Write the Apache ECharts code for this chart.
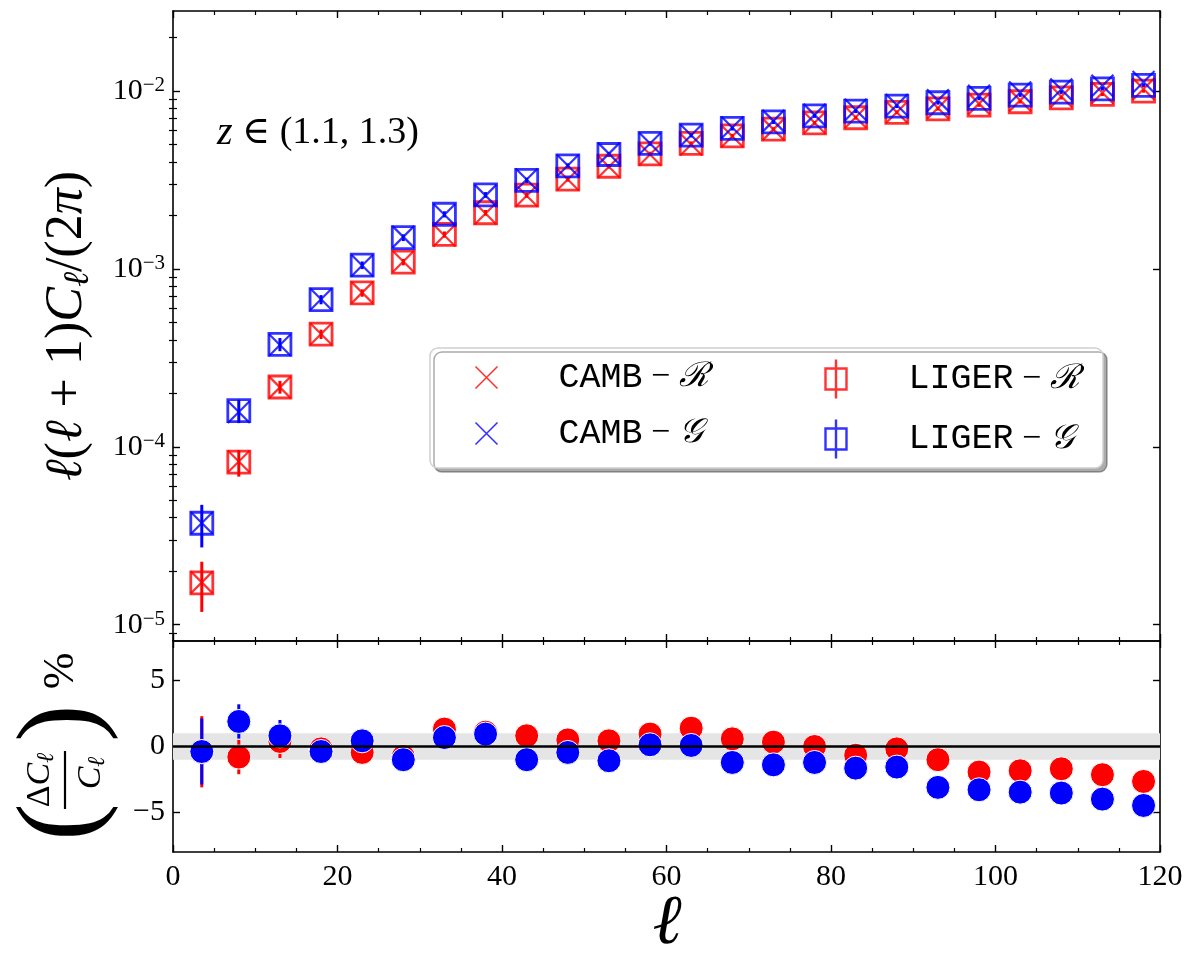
<!DOCTYPE html>
<html>
<head>
<meta charset="utf-8">
<script src="https://cdn.jsdelivr.net/npm/echarts@6/dist/echarts.min.js"></script>
<style>
  html, body { margin: 0; padding: 0; background: #fff; }
  #chart { width: 1200px; height: 965px; }
</style>
</head>
<body>
<div id="chart"></div>
<script>
// multipole bin centres
var ell = [3.5, 8, 13, 18, 23, 28, 33, 38, 43, 48, 53, 58, 63, 68, 73, 78, 83, 88, 93, 98, 103, 108, 113, 118];

// l(l+1)C_l/(2pi), LIGER measurements (squares) and errors
var ligerR = [1.72e-5, 8.2e-5, 2.17e-4, 4.3e-4, 7.33e-4, 1.094e-3, 1.563e-3, 2.07e-3, 2.60e-3, 3.20e-3, 3.78e-3, 4.44e-3,
              5.08e-3, 5.60e-3, 6.11e-3, 6.63e-3, 7.08e-3, 7.59e-3, 7.95e-3, 8.34e-3, 8.71e-3, 9.17e-3, 9.58e-3, 1.0e-2];
var ligerG = [3.72e-5, 1.60e-4, 3.77e-4, 6.73e-4, 1.05e-3, 1.50e-3, 2.03e-3, 2.61e-3, 3.15e-3, 3.80e-3, 4.40e-3, 5.08e-3,
              5.65e-3, 6.17e-3, 6.71e-3, 7.26e-3, 7.72e-3, 8.23e-3, 8.60e-3, 9.10e-3, 9.50e-3, 9.87e-3, 1.03e-2, 1.077e-2];
var ligerRErr = [5.4e-6, 1.4e-5, 1.8e-5, 2.6e-5, 3.5e-5, 4.6e-5, 6.2e-5, 7.5e-5, 8.8e-5, 1.0e-4, 1.1e-4, 1.25e-4,
                 1.35e-4, 1.45e-4, 1.55e-4, 1.6e-4, 1.7e-4, 1.75e-4, 1.8e-4, 1.85e-4, 1.9e-4, 1.95e-4, 2.0e-4, 2.05e-4];
var ligerGErr = [1.0e-5, 2.4e-5, 3.2e-5, 4.0e-5, 5.2e-5, 6.5e-5, 8.0e-5, 9.5e-5, 1.08e-4, 1.22e-4, 1.35e-4, 1.48e-4,
                 1.58e-4, 1.68e-4, 1.78e-4, 1.86e-4, 1.94e-4, 2.02e-4, 2.08e-4, 2.15e-4, 2.2e-4, 2.26e-4, 2.32e-4, 2.38e-4];

// CAMB theory (crosses)
var cambR = [1.73e-5, 8.27e-5, 2.16e-4, 4.31e-4, 7.36e-4, 1.102e-3, 1.543e-3, 2.05e-3, 2.58e-3, 3.18e-3, 3.76e-3, 4.40e-3,
             5.01e-3, 5.57e-3, 6.09e-3, 6.63e-3, 7.13e-3, 7.60e-3, 8.03e-3, 8.50e-3, 8.87e-3, 9.33e-3, 9.79e-3, 1.027e-2];
var cambG = [3.73e-5, 1.57e-4, 3.74e-4, 6.76e-4, 1.045e-3, 1.515e-3, 2.016e-3, 2.585e-3, 3.18e-3, 3.82e-3, 4.45e-3, 5.07e-3,
             5.645e-3, 6.24e-3, 6.80e-3, 7.35e-3, 7.85e-3, 8.36e-3, 8.87e-3, 9.40e-3, 9.83e-3, 1.022e-2, 1.071e-2, 1.125e-2];

// relative difference (percent) and its errors
var diffR = [-0.4, -0.8, 0.38, -0.18, -0.45, -0.76, 1.32, 1.09, 0.81, 0.5, 0.43, 0.94,
             1.39, 0.58, 0.33, 0.0, -0.66, -0.18, -1.0, -1.94, -1.84, -1.69, -2.14, -2.65];
var diffG = [-0.38, 1.9, 0.81, -0.38, 0.43, -1.0, 0.68, 0.94, -1.0, -0.45, -1.08, 0.13,
             0.08, -1.21, -1.39, -1.21, -1.64, -1.56, -3.1, -3.28, -3.46, -3.53, -3.99, -4.47];
var diffRErr = [2.7, 1.3, 1.25, 0.8, 0.7, 0.6, 0.55, 0.5, 0.45, 0.4, 0.4, 0.35,
                0.35, 0.3, 0.3, 0.3, 0.3, 0.3, 0.3, 0.3, 0.3, 0.3, 0.3, 0.3];
var diffGErr = [2.5, 1.3, 1.2, 0.8, 0.7, 0.6, 0.55, 0.5, 0.45, 0.4, 0.4, 0.35,
                0.35, 0.3, 0.3, 0.3, 0.3, 0.3, 0.3, 0.3, 0.3, 0.3, 0.3, 0.3];

// axis ticks
var logMajor = [1e-5, 1e-4, 1e-3, 1e-2];
var logMinor = [9e-6, 2e-5, 3e-5, 4e-5, 5e-5, 6e-5, 7e-5, 8e-5, 9e-5, 2e-4, 3e-4, 4e-4, 5e-4, 6e-4, 7e-4, 8e-4, 9e-4,
                2e-3, 3e-3, 4e-3, 5e-3, 6e-3, 7e-3, 8e-3, 9e-3, 2e-2];
var ratioTicks = [-5, 0, 5];

var RED = '#ff0000', BLUE = '#0000ff';
var SERIF = '"Liberation Serif", "DejaVu Serif", serif';
var MONO = '"Liberation Mono", "DejaVu Sans Mono", monospace';
var crossPath = 'path://M0,0L22,22M22,0L0,22';
var boxPath = 'path://M0,9H21V30H0Z M10.5,0V39';

function rows(a, b, c) {
    return ell.map(function (x, i) { return c ? [x, a[i], c[i]] : [x, a[i]]; });
}

function errBar(params, api) {
    var x = api.value(0), y = api.value(1), e = api.value(2);
    var p0 = api.coord([x, y - e]);
    var p1 = api.coord([x, y + e]);
    return {
        type: 'line',
        shape: { x1: p0[0], y1: p0[1], x2: p1[0], y2: p1[1] },
        style: { stroke: api.visual('color'), lineWidth: 3 }
    };
}

var axisLine = { show: true, onZero: false, lineStyle: { color: '#000', width: 1.6 } };

function xAx(grid, pos, labels) {
    return {
        type: 'value', gridIndex: grid, position: pos, min: 0, max: 120, interval: 20,
        axisLine: axisLine,
        axisTick: { show: true, inside: true, length: 7, lineStyle: { color: '#000', width: 1.4 } },
        minorTick: { show: true, splitNumber: 4, length: 4, lineStyle: { color: '#000', width: 1.2 } },
        axisLabel: { show: labels, margin: 10, fontFamily: SERIF, fontSize: 30, color: '#000' },
        splitLine: { show: false }
    };
}

function logAx(pos, minor, labels) {
    return {
        type: 'log', gridIndex: 0, position: pos, min: 8.1e-6, max: 0.0282, logBase: 10,
        axisLine: minor ? { show: false } : axisLine,
        axisTick: {
            show: true, inside: true, length: minor ? 4 : 7,
            customValues: minor ? logMinor : logMajor,
            lineStyle: { color: '#000', width: minor ? 1.2 : 1.4 }
        },
        axisLabel: {
            show: labels, margin: 8, customValues: logMajor, color: '#000',
            formatter: function (v) {
                var p = Math.round(Math.log10(v));
                return '{b|10}{s|' + (p < 0 ? '\u2212' + (-p) : p) + '}';
            },
            rich: {
                b: { fontFamily: SERIF, fontSize: 30, color: '#000', lineHeight: 32 },
                s: { fontFamily: SERIF, fontSize: 21, color: '#000', lineHeight: 20, verticalAlign: 'top' }
            }
        },
        splitLine: { show: false }
    };
}

function ratioAx(pos, labels) {
    return {
        type: 'value', gridIndex: 1, position: pos, min: -8, max: 8,
        axisLine: axisLine,
        axisTick: { show: true, inside: true, length: 7, customValues: ratioTicks, lineStyle: { color: '#000', width: 1.4 } },
        axisLabel: {
            show: labels, margin: 8, customValues: ratioTicks, fontFamily: SERIF, fontSize: 30, color: '#000',
            formatter: function (v) { return v < 0 ? '\u2212' + (-v) : String(v); }
        },
        splitLine: { show: false }
    };
}

var legendText = {
    color: '#000', fontSize: 34, lineHeight: 34, padding: [0, 0, 0, 56],
    rich: {
        m: { fontFamily: MONO, fontSize: 35, color: '#000' },
        o: { fontFamily: SERIF, fontSize: 34, color: '#000' },
        c: { fontFamily: SERIF, fontSize: 34, fontStyle: 'italic', color: '#000' }
    }
};
function legendLabel(name) {
    var p = name.split('-');
    return '{m|' + p[0] + '}{o| \u2212 }{c|' + (p[1] === 'R' ? '\u211B' : '\uD835\uDCA2') + '}';
}

var chart = echarts.init(document.getElementById('chart'), null, { renderer: 'canvas' });
chart.setOption({
    animation: false,
    backgroundColor: '#fff',
    grid: [
        { left: 173, right: 40, top: 11, height: 630 },
        { left: 173, right: 40, top: 641, height: 211 }
    ],
    xAxis: [xAx(0, 'bottom', false), xAx(0, 'top', false), xAx(1, 'bottom', true), xAx(1, 'top', false)],
    yAxis: [logAx('left', false, true), logAx('right', false, false), logAx('left', true, false), logAx('right', true, false),
            ratioAx('left', true), ratioAx('right', false)],
    legend: [
        {
            data: [{ name: 'CAMB-R', icon: crossPath }, { name: 'CAMB-G', icon: crossPath }],
            orient: 'vertical', left: 473, top: 360, padding: 0, itemWidth: 22, itemHeight: 22, itemGap: 21,
            selectedMode: false, z: 20, formatter: legendLabel, textStyle: legendText,
            itemStyle: { borderWidth: 1.6 }
        },
        {
            data: [{ name: 'LIGER-R', icon: boxPath }, { name: 'LIGER-G', icon: boxPath }],
            orient: 'vertical', left: 823, top: 357, padding: 0, itemWidth: 21, itemHeight: 39, itemGap: 16,
            selectedMode: false, z: 20, formatter: legendLabel, textStyle: Object.assign({}, legendText, { padding: [0, 0, 0, 57] }),
            itemStyle: { borderWidth: 2.4 }
        }
    ],
    graphic: [
        {
            type: 'rect', z: 15, silent: true,
            shape: { x: 430, y: 348, width: 673, height: 120, r: 8 },
            style: { fill: '#fff', stroke: '#d0d0d0', lineWidth: 1.5, shadowColor: 'rgba(0,0,0,0.33)', shadowOffsetX: 4, shadowOffsetY: 4, shadowBlur: 0 }
        },
        {
            type: 'text', x: 217, y: 133, z: 15,
            style: {
                text: '{i|z}{r| \u2208 (1.1, 1.3)}', verticalAlign: 'middle', align: 'left',
                rich: {
                    i: { fontFamily: SERIF, fontSize: 40, fontStyle: 'italic', fill: '#000' },
                    r: { fontFamily: SERIF, fontSize: 38, fill: '#000' }
                }
            }
        },
        {
            type: 'text', x: 67, y: 326, rotation: Math.PI / 2, z: 15,
            style: {
                text: '{i|\u2113}{r|(}{i|\u2113}{r| + 1)}{i|C}{s|\u2113}{r|/(2}{i|\u03C0}{r|)}',
                align: 'center', verticalAlign: 'middle',
                rich: {
                    i: { fontFamily: SERIF, fontSize: 52, fontStyle: 'italic', fill: '#000', lineHeight: 56 },
                    r: { fontFamily: SERIF, fontSize: 52, fill: '#000', lineHeight: 56 },
                    s: { fontFamily: SERIF, fontSize: 36, fontStyle: 'italic', fill: '#000', lineHeight: 56, padding: [24, 0, 0, 0] }
                }
            }
        },
        {
            type: 'group', x: 65, y: 743, rotation: Math.PI / 2, z: 15,
            children: [
                { type: 'text', x: -79, y: 0, style: { text: '(', font: '112px ' + SERIF, fill: '#000', align: 'center', verticalAlign: 'middle' } },
                {
                    type: 'text', x: -37, y: -25,
                    style: {
                        text: '{r|\u0394}{i|C}{s|\u2113}', align: 'center', verticalAlign: 'middle',
                        rich: {
                            r: { fontFamily: SERIF, fontSize: 34, fill: '#000' },
                            i: { fontFamily: SERIF, fontSize: 34, fontStyle: 'italic', fill: '#000' },
                            s: { fontFamily: SERIF, fontSize: 24, fontStyle: 'italic', fill: '#000', padding: [14, 0, 0, 0] }
                        }
                    }
                },
                { type: 'line', shape: { x1: -66, y1: 0, x2: -8, y2: 0 }, style: { stroke: '#000', lineWidth: 2.2 } },
                {
                    type: 'text', x: -30, y: 26,
                    style: {
                        text: '{i|C}{s|\u2113}', align: 'center', verticalAlign: 'middle',
                        rich: {
                            i: { fontFamily: SERIF, fontSize: 34, fontStyle: 'italic', fill: '#000' },
                            s: { fontFamily: SERIF, fontSize: 24, fontStyle: 'italic', fill: '#000', padding: [14, 0, 0, 0] }
                        }
                    }
                },
                { type: 'text', x: 20, y: 0, style: { text: ')', font: '112px ' + SERIF, fill: '#000', align: 'center', verticalAlign: 'middle' } },
                { type: 'text', x: 72, y: -4, style: { text: '%', font: '44px ' + SERIF, fill: '#000', align: 'center', verticalAlign: 'middle' } }
            ]
        },
        {
            type: 'text', x: 667, y: 925, z: 15,
            style: { text: '\u2113', font: 'italic 70px ' + SERIF, fill: '#000', align: 'center', verticalAlign: 'middle' }
        }
    ],
    series: [
        { name: 'errR', type: 'custom', xAxisIndex: 0, yAxisIndex: 0, renderItem: errBar, itemStyle: { color: RED },
          encode: { x: 0, y: 1 }, data: rows(ligerR, null, ligerRErr) },
        { name: 'LIGER-R', type: 'scatter', xAxisIndex: 0, yAxisIndex: 0, symbol: 'rect', symbolSize: 22,
          itemStyle: { color: 'none', borderColor: RED, borderWidth: 2.8 }, data: rows(ligerR) },
        { name: 'CAMB-R', type: 'scatter', xAxisIndex: 0, yAxisIndex: 0, symbol: crossPath, symbolSize: 22,
          itemStyle: { color: 'none', borderColor: RED, borderWidth: 2.2 }, data: rows(cambR) },
        { name: 'errG', type: 'custom', xAxisIndex: 0, yAxisIndex: 0, renderItem: errBar, itemStyle: { color: BLUE },
          encode: { x: 0, y: 1 }, data: rows(ligerG, null, ligerGErr) },
        { name: 'LIGER-G', type: 'scatter', xAxisIndex: 0, yAxisIndex: 0, symbol: 'rect', symbolSize: 22,
          itemStyle: { color: 'none', borderColor: BLUE, borderWidth: 2.8 }, data: rows(ligerG) },
        { name: 'CAMB-G', type: 'scatter', xAxisIndex: 0, yAxisIndex: 0, symbol: crossPath, symbolSize: 22,
          itemStyle: { color: 'none', borderColor: BLUE, borderWidth: 2.2 }, data: rows(cambG) },

        { name: 'dErrR', type: 'custom', xAxisIndex: 2, yAxisIndex: 4, renderItem: errBar, itemStyle: { color: RED },
          encode: { x: 0, y: 1 }, data: rows(diffR, null, diffRErr),
          markArea: { silent: true, itemStyle: { color: '#e5e5e5' }, data: [[{ yAxis: -1 }, { yAxis: 1 }]] },
          markLine: { silent: true, symbol: ['none', 'none'], label: { show: false },
                      lineStyle: { color: '#000', width: 2.5, type: 'solid' }, data: [{ yAxis: 0 }] } },
        { name: 'dR', type: 'scatter', xAxisIndex: 2, yAxisIndex: 4, symbolSize: 24,
          itemStyle: { color: RED, borderColor: '#fff', borderWidth: 1, opacity: 1 }, data: rows(diffR) },
        { name: 'dErrG', type: 'custom', xAxisIndex: 2, yAxisIndex: 4, renderItem: errBar, itemStyle: { color: BLUE },
          encode: { x: 0, y: 1 }, data: rows(diffG, null, diffGErr) },
        { name: 'dG', type: 'scatter', xAxisIndex: 2, yAxisIndex: 4, symbolSize: 24,
          itemStyle: { color: BLUE, borderColor: '#fff', borderWidth: 1, opacity: 1 }, data: rows(diffG) }
    ]
});
</script>
</body>
</html>
